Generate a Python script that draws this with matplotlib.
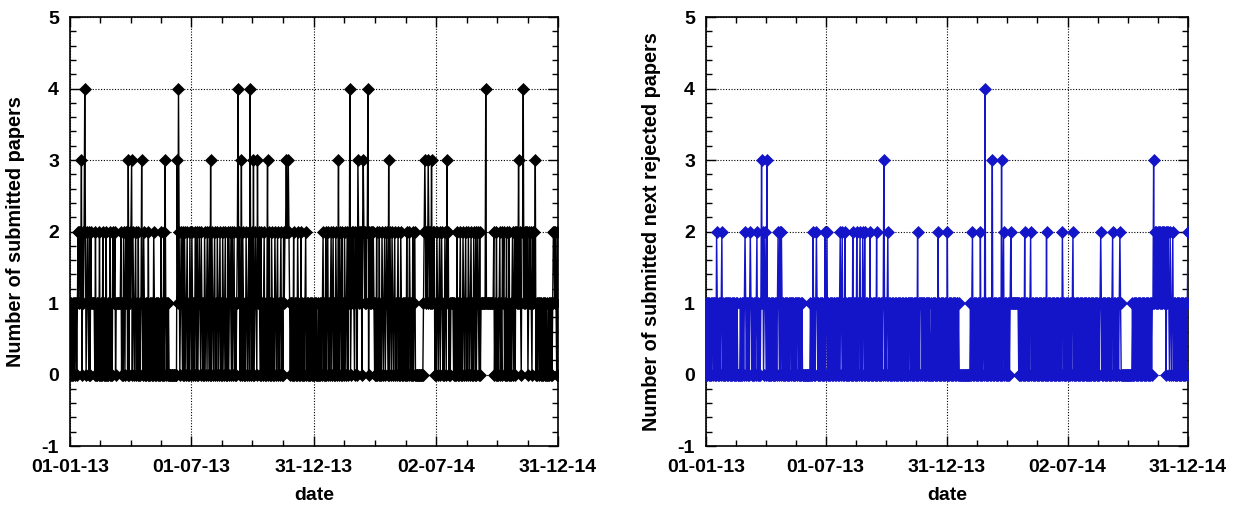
import matplotlib
matplotlib.use("Agg")
import matplotlib.pyplot as plt
import matplotlib.dates as mdates
from matplotlib.ticker import MultipleLocator, FixedLocator
import numpy as np
import pandas as pd

plt.rcParams['font.family'] = ['Liberation Sans', 'DejaVu Sans']
plt.rcParams['axes.unicode_minus'] = False

start_date = "2013-01-01"
n_days = 730

submitted_str = (
    "1010101011" "0121221302" "1242012102" "0211111020" "1010201002"
    "0100201010" "2010211201" "1111112010" "2102120302" "1230210120"
    "1020101310" "2101010201" "0101021010" "1010102010" "2031010100"
    "0000000000" "3142012102" "0210120102" "1021010210" "2012102101"
    "0210120120" "3021012010" "2101201021" "0120102012" "1020120101"
    "2412013021" "0102101204" "1020301210" "3121020101" "2010130201"
    "0210102101" "2010120102" "1223223210" "1010201010" "2101020101"
    "0120101010" "1010101010" "0101010120" "1020120101" "2012010210"
    "1302102010" "2101202140" "1212102120" "3212120232" "1212240212"
    "1212101020" "1020102101" "2012103021" "0210120101" "2010210101"
    "0102010210" "1020120000" "0000000012" "3212132121" "3121201021"
    "0120121010" "2103120101" "1110101020" "1012010210" "1201021012"
    "0102102012" "1020111111" "1411111111" "1112010201" "0120102120"
    "1020102010" "1201202121" "3121022412" "1212012121" "0212130101"
    "1010101010" "1010010101" "0122121020"
)

rejected_str = (
    "0101010101" "1010102101" "0101201010" "1010110101" "0101010100"
    "0010101012" "1010101210" "1010101201" "0101312012" "1030101010"
    "1010101012" "1020210101" "0101010110" "1010101011" "0101010000"
    "0000000010" "1020101210" "1010101010" "2012010101" "0101101010"
    "1012012010" "2010101010" "1020101020" "1012010210" "2010101020"
    "1010101020" "1010101013" "1010120101" "0101001010" "1010101010"
    "0101010110" "1010101010" "2010111010" "1010101010" "0101010101"
    "0201010101" "0101020101" "0101010101" "1010000000" "0000000000"
    "1012010101" "0101020101" "1040101010" "1013010101" "0101010301"
    "2010101010" "1211111111" "1110101010" "1020101010" "1201010101"
    "0101010101" "0101020101" "0101010101" "0101010102" "1010101010"
    "1010120101" "0101010101" "0101010101" "0010101010" "1010101210"
    "1010101010" "1010120101" "0101012100" "0000000000" "0000010101"
    "0101010101" "0101010101" "0101011312" "1212121212" "1212120212"
    "1021012010" "1010101010" "1010101012"
)

submitted = [int(c) for c in submitted_str]
rejected = [int(c) for c in rejected_str]

x_tick_dates = ["2013-01-01", "2013-07-01", "2013-12-31", "2014-07-02", "2014-12-31"]
x_tick_labels = ["01-01-13", "01-07-13", "31-12-13", "02-07-14", "31-12-14"]
y_ticks = [-1, 0, 1, 2, 3, 4, 5]

dates = pd.date_range(start_date, periods=n_days)

fig = plt.figure(figsize=(12.33, 5.08), dpi=100)
ax1 = fig.add_axes([0.0568, 0.122, 0.3958, 0.8445])
ax2 = fig.add_axes([0.5726, 0.122, 0.3909, 0.8445])

major_x = [mdates.date2num(pd.Timestamp(d)) for d in x_tick_dates]
minor_x = []
for a, b in zip(major_x[:-1], major_x[1:]):
    for k in (1, 2, 3):
        minor_x.append(a + (b - a) * k / 4)

panels = [
    (ax1, submitted, "black", "Number of submitted papers"),
    (ax2, rejected, "#1414c8", "Number of submitted next rejected papers"),
]

for ax, vals, col, ylab in panels:
    ax.plot(dates, vals, color=col, lw=1.0, marker="D", markersize=6,
            markeredgewidth=0.5, zorder=3)
    ax.set_xlim(major_x[0], major_x[-1])
    ax.set_ylim(-1, 5)
    ax.xaxis.set_major_locator(FixedLocator(major_x))
    ax.xaxis.set_minor_locator(FixedLocator(minor_x))
    ax.set_xticklabels(x_tick_labels)
    ax.set_yticks(y_ticks)
    ax.yaxis.set_minor_locator(MultipleLocator(0.2))
    ax.tick_params(which="both", direction="in", top=True, right=True,
                   labelsize=14, width=1.0)
    ax.tick_params(which="major", length=7)
    ax.tick_params(which="minor", length=4)
    for lab in ax.get_xticklabels() + ax.get_yticklabels():
        lab.set_fontweight("bold")
    ax.tick_params(axis="x", pad=9)
    ax.tick_params(axis="y", pad=8)
    ax.grid(True, which="major", linestyle=(0, (1, 1.5)), color="black", lw=0.8)
    for sp in ax.spines.values():
        sp.set_linewidth(1.2)
    ax.set_xlabel("date", fontsize=14, fontweight="bold", labelpad=8)
    ax.set_ylabel(ylab, fontsize=14.3, fontweight="bold", labelpad=12)

fig.savefig("out.png", dpi=100)
